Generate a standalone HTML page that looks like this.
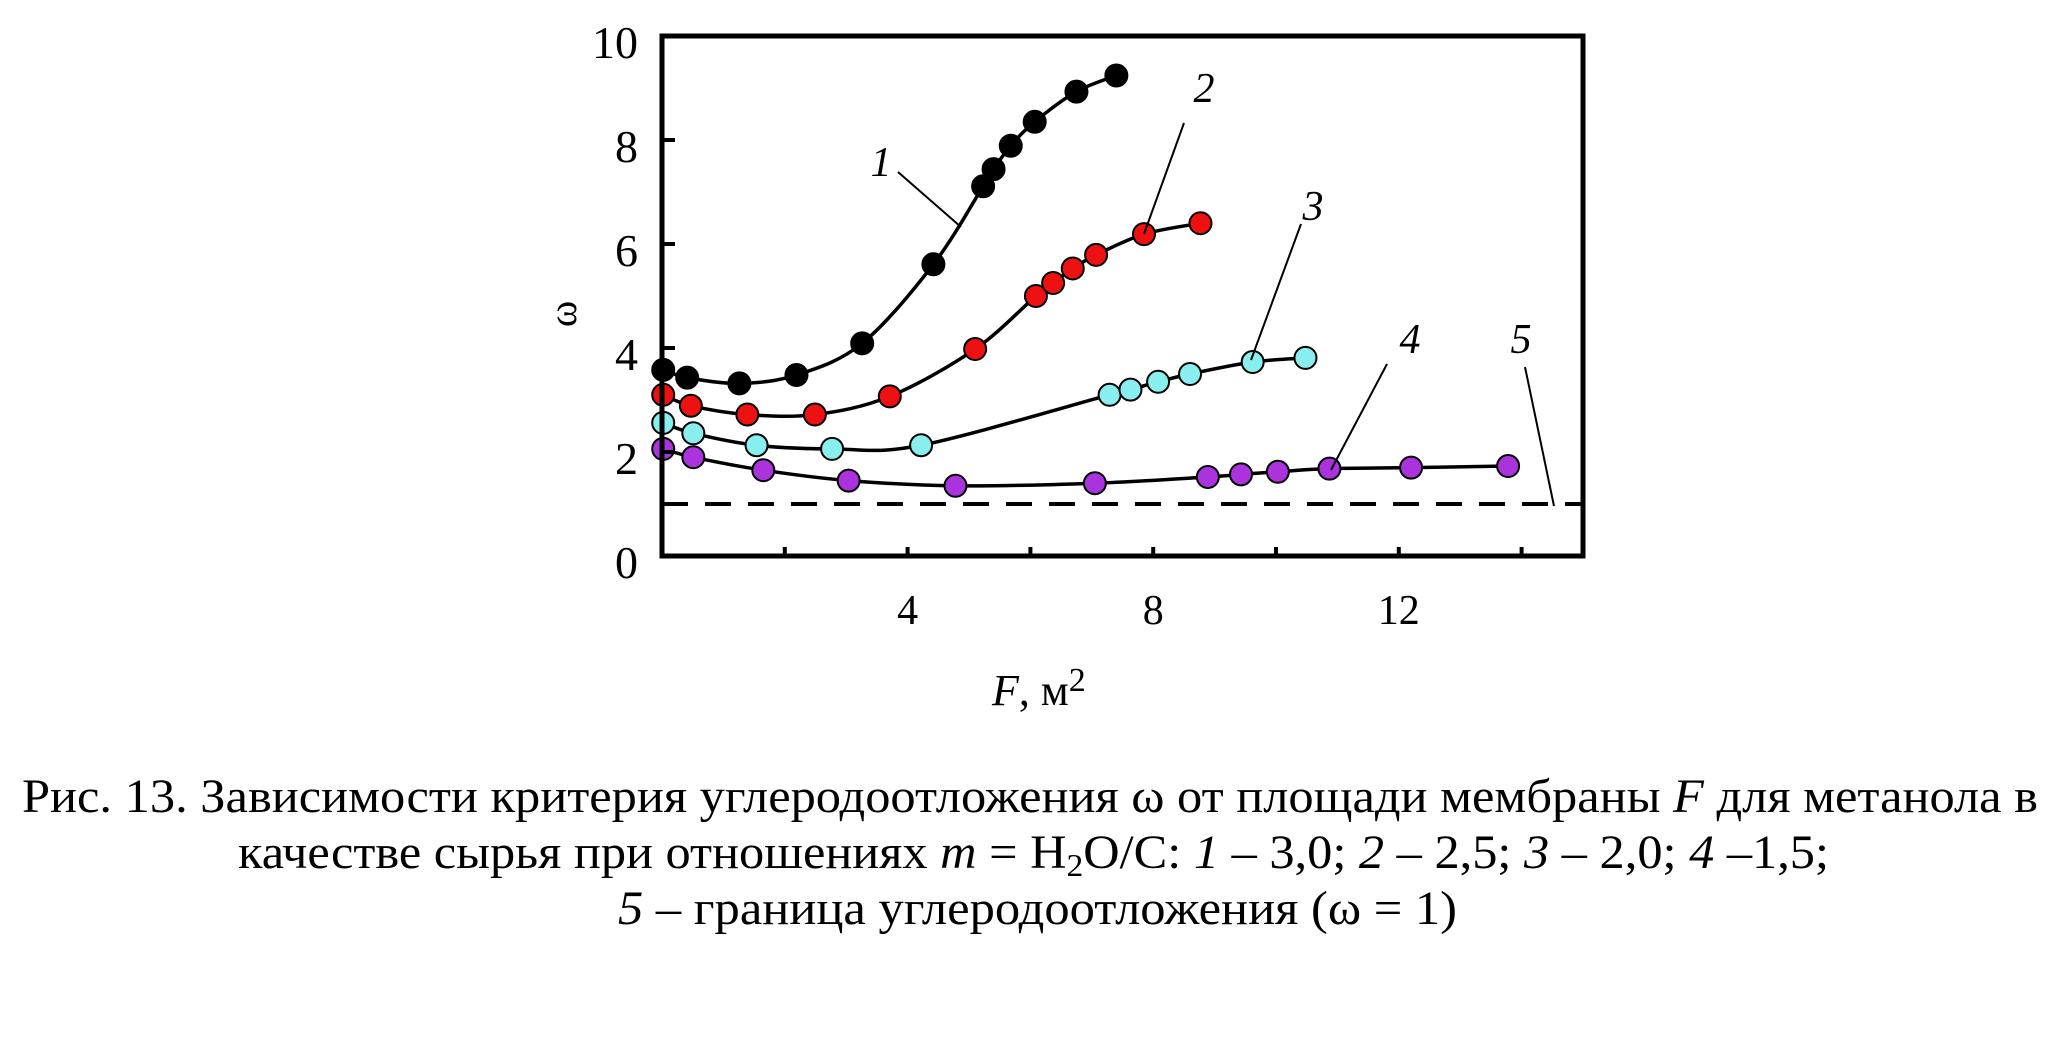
<!DOCTYPE html>
<html><head><meta charset="utf-8"><style>
html,body{margin:0;padding:0;background:#fff;}
svg{display:block;font-family:"Liberation Serif",serif;}
</style></head><body>
<svg id="chart" width="2060" height="1044" viewBox="0 0 2060 1044" xmlns="http://www.w3.org/2000/svg">
<rect x="0" y="0" width="2060" height="1044" fill="#fff"/>
<g id="plot"></g>
<g font-size="48" fill="#000">
<text x="22" y="812" textLength="2016" lengthAdjust="spacingAndGlyphs">Рис. 13. Зависимости критерия углеродоотложения ω от площади мембраны <tspan font-style="italic">F</tspan> для метанола в</text>
<text x="238" y="868" textLength="1591" lengthAdjust="spacingAndGlyphs">качестве сырья при отношениях <tspan font-style="italic">m</tspan> = H<tspan font-size="32" dy="8">2</tspan><tspan dy="-8">O/C: </tspan><tspan font-style="italic">1</tspan> – 3,0; <tspan font-style="italic">2</tspan> – 2,5; <tspan font-style="italic">3</tspan> – 2,0; <tspan font-style="italic">4</tspan> –1,5;</text>
<text x="618" y="924" textLength="839" lengthAdjust="spacingAndGlyphs"><tspan font-style="italic">5</tspan> – граница углеродоотложения (ω = 1)</text>
</g>
</svg>
<script>
const xTicks = [2, 4, 6, 8, 10, 12, 14];
const xTickLabels = [4, 8, 12];
const yTicks = [0, 2, 4, 6, 8, 10];
const s1F = [0.02, 0.41, 1.26, 2.19, 3.26, 4.42, 5.23, 5.40, 5.68, 6.07, 6.75, 7.40];
const s1W = [3.58, 3.43, 3.32, 3.48, 4.09, 5.61, 7.11, 7.44, 7.89, 8.35, 8.93, 9.24];
const s2F = [0.02, 0.47, 1.39, 2.49, 3.71, 5.10, 6.09, 6.37, 6.69, 7.07, 7.85, 8.77];
const s2W = [3.10, 2.89, 2.72, 2.72, 3.07, 3.98, 5.00, 5.25, 5.53, 5.79, 6.19, 6.40];
const s3F = [0.02, 0.51, 1.54, 2.77, 4.22, 7.29, 7.63, 8.08, 8.60, 9.62, 10.48];
const s3W = [2.56, 2.36, 2.13, 2.06, 2.13, 3.10, 3.20, 3.35, 3.50, 3.73, 3.81];
const s4F = [0.02, 0.51, 1.65, 3.04, 4.78, 7.05, 8.89, 9.43, 10.03, 10.87, 12.20, 13.78];
const s4W = [2.06, 1.90, 1.65, 1.45, 1.35, 1.40, 1.52, 1.57, 1.62, 1.68, 1.70, 1.73];
const boundaryW = 1;
const boundaryF = [0, 15];

const NS = "http://www.w3.org/2000/svg";
const X0 = 662, X1 = 1583, Y0 = 556, Y1 = 36;
const xMax = 15, yMax = 10;
function xs(f){ return X0 + f * (X1 - X0) / xMax; }
function ys(w){ return Y0 - w * (Y0 - Y1) / yMax; }
const g = document.getElementById('plot');
function mk(tag, attrs, parent){
  const e = document.createElementNS(NS, tag);
  for (const k in attrs) e.setAttribute(k, attrs[k]);
  (parent || g).appendChild(e);
  return e;
}
function smooth(pts){
  let d = `M${pts[0][0]},${pts[0][1]}`;
  for (let i = 0; i < pts.length - 1; i++){
    const p0 = pts[i-1] || pts[i], p1 = pts[i], p2 = pts[i+1], p3 = pts[i+2] || p2;
    const c1 = [p1[0] + (p2[0]-p0[0])/6, p1[1] + (p2[1]-p0[1])/6];
    const c2 = [p2[0] - (p3[0]-p1[0])/6, p2[1] - (p3[1]-p1[1])/6];
    d += ` C${c1[0]},${c1[1]} ${c2[0]},${c2[1]} ${p2[0]},${p2[1]}`;
  }
  return d;
}
// boundary dashed line
const bl = mk('line', {x1: xs(boundaryF[0]), x2: xs(boundaryF[1]), y1: ys(boundaryW), y2: ys(boundaryW), stroke:'#000', 'stroke-width':4, 'stroke-dasharray':'26 17'});



const series = [
  {F:s1F, W:s1W, color:'#000000', name:'series-1'},
  {F:s2F, W:s2W, color:'#ee1111', name:'series-2'},
  {F:s3F, W:s3W, color:'#88eeee', name:'series-3'},
  {F:s4F, W:s4W, color:'#aa33dd', name:'series-4'}
];
series.forEach(s => {
  const pts = s.F.map((f, i) => [xs(f), ys(s.W[i])]);
  const p = mk('path', {d: smooth(pts), fill:'none', stroke:'#000', 'stroke-width':3.5});
  
  
  pts.forEach(pt => {
    const c = mk('circle', {cx: pt[0], cy: pt[1], r: 11, fill: s.color, stroke:'#000', 'stroke-width':2});
    
    
  });
});

// frame
const fr = mk('rect', {x: X0, y: Y1, width: X1 - X0, height: Y0 - Y1, fill:'none', stroke:'#000', 'stroke-width':5});



xTicks.forEach(t => {
  const l = mk('line', {x1: xs(t), x2: xs(t), y1: Y0, y2: Y0 - 9, stroke:'#000', 'stroke-width':4});
  
  
});
xTickLabels.forEach(t => {
  const tx = mk('text', {x: xs(t), y: 624, 'font-size': 42, 'text-anchor':'middle'});
  tx.textContent = t;
  
  
});
yTicks.forEach(t => {
  if (t > 0 && t < 10) {
    const l = mk('line', {x1: X0, x2: X0 + 13, y1: ys(t), y2: ys(t), stroke:'#000', 'stroke-width':4});
    
    
  }
  const tx = mk('text', {x: 638, y: ys(t) + 22, 'font-size': 46, 'text-anchor':'end'});
  tx.textContent = t;
  
  
});

// axis titles
const xt = mk('text', {x: 992, y: 705, 'font-size': 44});
xt.innerHTML = '<tspan font-style="italic">F</tspan>, м<tspan font-size="34" dy="-14">2</tspan>';


const yt = mk('text', {x: 0, y: 0, 'font-size': 40, 'text-anchor':'middle', transform:'translate(576,314) rotate(-90)'});
yt.textContent = 'ω';



// curve labels with leader lines
const labels = [
  {t:'1', x:881, y:176, l:[898,172,961,227]},
  {t:'2', x:1204, y:102, l:[1184,123,1144,234]},
  {t:'3', x:1313, y:220, l:[1301,224,1251,360]},
  {t:'4', x:1410, y:353, l:[1387,364,1331,470]},
  {t:'5', x:1521, y:353, l:[1525,367,1554,506]}
];
labels.forEach(o => {
  const tx = mk('text', {x: o.x, y: o.y, 'font-size': 42, 'font-style':'italic', 'text-anchor':'middle'});
  tx.textContent = o.t;
  
  
  const ln = mk('line', {x1:o.l[0], y1:o.l[1], x2:o.l[2], y2:o.l[3], stroke:'#000', 'stroke-width':2});
  
  
});
</script>
</body></html>
